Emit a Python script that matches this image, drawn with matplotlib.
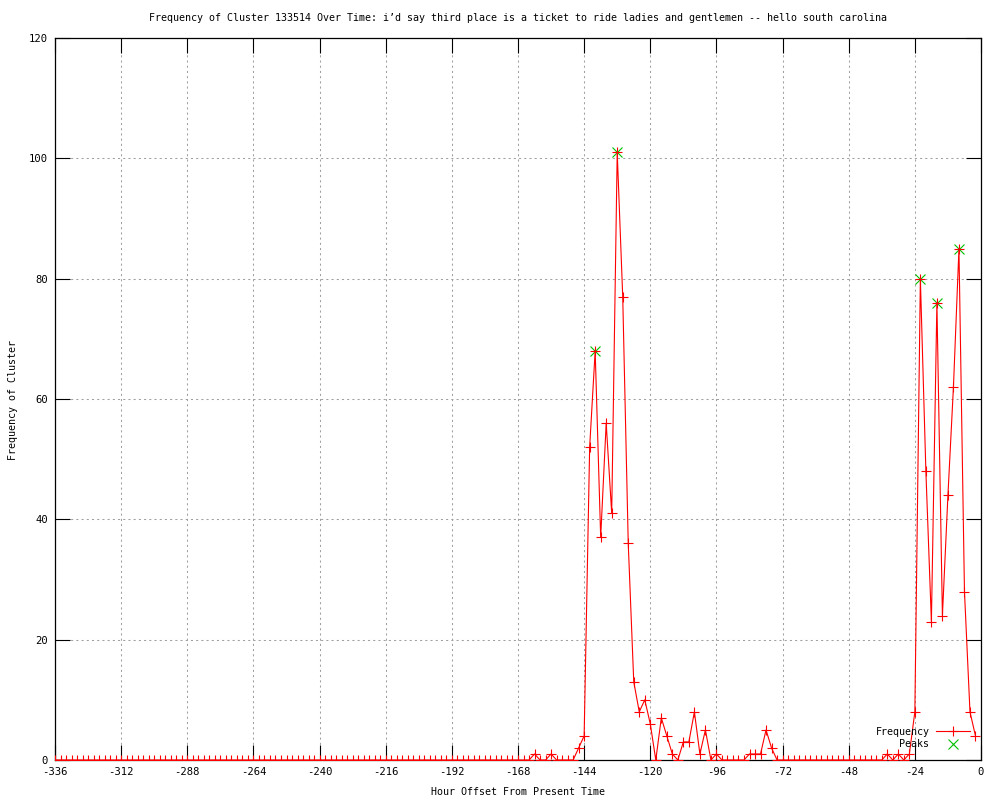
import numpy as np
import matplotlib
matplotlib.use('Agg')
import matplotlib.pyplot as plt

plt.rcParams['axes.unicode_minus'] = False

# hours before present, sampled every 2 hours
hours = np.arange(-336, 0, 2)

# one row per 24 hours (12 samples each), from -336 up to -2
frequency = [
    0, 0, 0, 0, 0, 0, 0, 0, 0, 0, 0, 0,          # -336
    0, 0, 0, 0, 0, 0, 0, 0, 0, 0, 0, 0,          # -312
    0, 0, 0, 0, 0, 0, 0, 0, 0, 0, 0, 0,          # -288
    0, 0, 0, 0, 0, 0, 0, 0, 0, 0, 0, 0,          # -264
    0, 0, 0, 0, 0, 0, 0, 0, 0, 0, 0, 0,          # -240
    0, 0, 0, 0, 0, 0, 0, 0, 0, 0, 0, 0,          # -216
    0, 0, 0, 0, 0, 0, 0, 0, 0, 0, 0, 0,          # -192
    0, 0, 0, 1, 0, 0, 1, 0, 0, 0, 0, 2,          # -168
    4, 52, 68, 37, 56, 41, 101, 77, 36, 13, 8, 10,  # -144
    6, 0, 7, 4, 1, 0, 3, 3, 8, 1, 5, 0,          # -120
    1, 0, 0, 0, 0, 0, 1, 1, 1, 5, 2, 0,          # -96
    0, 0, 0, 0, 0, 0, 0, 0, 0, 0, 0, 0,          # -72
    0, 0, 0, 0, 0, 0, 0, 1, 0, 1, 0, 1,          # -48
    8, 80, 48, 23, 76, 24, 44, 62, 85, 28, 8, 4,  # -24
]

peak_hours = [-140, -132, -22, -16, -8]
peak_values = [68, 101, 80, 76, 85]

xticks = np.arange(-336, 1, 24)
yticks = np.arange(0, 121, 20)

title = ('Frequency of Cluster 133514 Over Time: i\u2019d say third place is a ticket '
         'to ride ladies and gentlemen -- hello south carolina')

font = 'DejaVu Sans Mono'
fs = 7.2

fig = plt.figure(figsize=(10, 8), dpi=100)
ax = fig.add_axes([0.055, 0.05, 0.926, 0.9025])

# Grid
for x in xticks[1:-1]:
    ax.axvline(x, color='#a0a0a0', linewidth=0.75, linestyle=(0, (2, 3)), zorder=1)
for y in yticks[1:-1]:
    ax.axhline(y, color='#a0a0a0', linewidth=0.75, linestyle=(0, (2, 3)), zorder=1)

ax.plot(peak_hours, peak_values, linestyle='none', marker='x', color='#00c000',
        markersize=6.5, markeredgewidth=0.8, label='Peaks', zorder=3)
ax.plot(hours, frequency, color='#ff0000', linewidth=0.8, marker='+',
        markersize=7, markeredgewidth=0.8, label='Frequency', zorder=4)

ax.set_xlim(-336, 0)
ax.set_ylim(0, 120)
ax.set_xticks(xticks)
ax.set_yticks(yticks)
ax.tick_params(direction='in', length=11, width=0.8, top=True, right=True,
               labelsize=7.6, pad=5)
for lab in ax.get_xticklabels() + ax.get_yticklabels():
    lab.set_family(font)
for s in ax.spines.values():
    s.set_linewidth(0.9)
    s.set_color('black')

fig.text(0.518, 0.978, title, fontsize=fs, family=font, ha='center', va='center')
fig.text(0.518, 0.010, 'Hour Offset From Present Time', fontsize=fs, family=font,
         ha='center', va='center')
fig.text(0.013, 0.5, 'Frequency of Cluster', fontsize=fs, family=font,
         rotation=90, ha='center', va='center')

handles, labels = ax.get_legend_handles_labels()
leg = ax.legend(handles[::-1], labels[::-1], loc='lower right',
                bbox_to_anchor=(0.994, 0.008), frameon=False, markerfirst=False,
                handlelength=3.4, handletextpad=0.7, labelspacing=0.25,
                borderpad=0, numpoints=1, prop={'family': font, 'size': fs})

fig.savefig('out.png', dpi=100)
